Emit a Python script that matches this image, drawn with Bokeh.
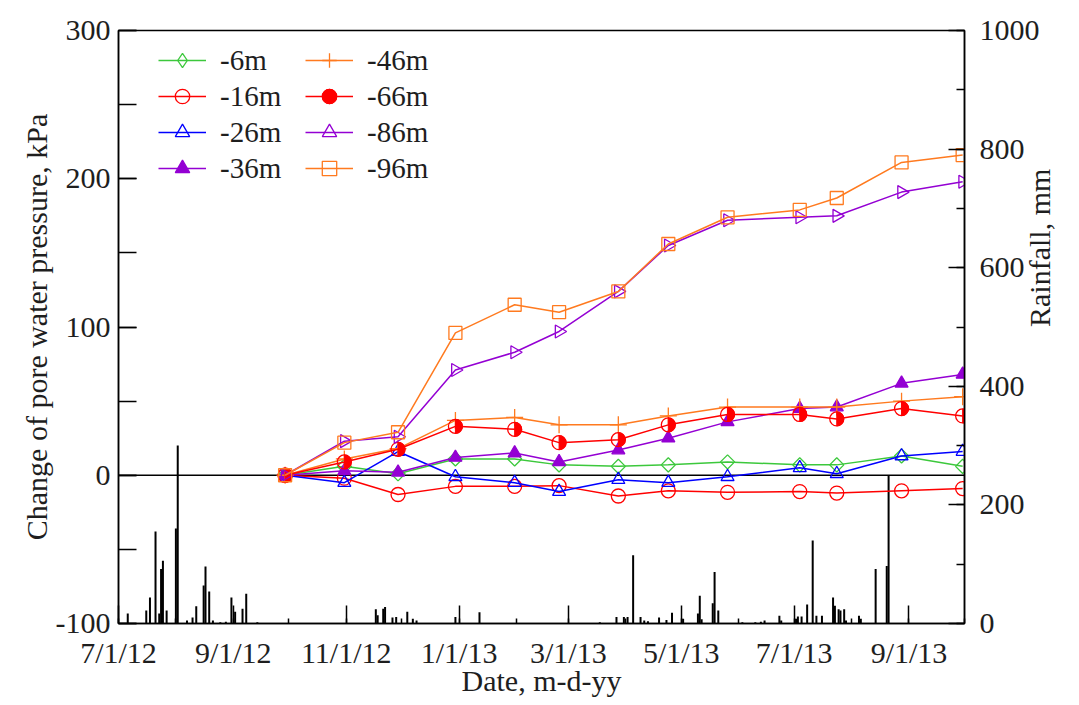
import math
from datetime import datetime
import pandas as pd
from bokeh.plotting import figure
from bokeh.models import (Range1d, LinearAxis, FixedTicker, SingleIntervalTicker,
                          Span, Legend, LegendItem)
from bokeh.embed import file_html
from bokeh.resources import INLINE

# ---------------- data ----------------
dates = ["2012-09-29", "2012-10-31", "2012-11-29", "2012-12-30", "2013-01-31",
         "2013-02-24", "2013-03-28", "2013-04-24", "2013-05-26", "2013-07-04",
         "2013-07-24", "2013-08-28", "2013-09-30"]
p6 = [0, 6, 1, 11, 11, 7, 6, 7, 9, 7, 7, 13, 6]
p16 = [0, -2, -13, -7.5, -7.5, -7, -14, -10.5, -11.5, -11, -12, -10.5, -9]
p26 = [0, -5, 16, -1, -5, -11, -3, -5, -1, 5, 1, 13, 16]
p36 = [0, 3, 2, 12, 15, 9, 17, 25, 36, 45, 46, 62, 68]
p46 = [0, 11, 18, 37, 39, 34, 34, 40, 46, 46, 46, 50, 53]
p66 = [0, 9, 17.5, 33, 31, 22, 24, 34, 41, 41, 38, 45, 40]
p86 = [0, 23, 26, 71, 83, 97, 124, 155, 172, 174, 175, 191, 198]
p96 = [0, 22, 29, 96, 115, 110, 124, 156, 174, 179, 187, 211, 216]

rain_dates = ["2012-07-06", "2012-07-16", "2012-07-18", "2012-07-21", "2012-07-23",
              "2012-07-24", "2012-07-25", "2012-07-27", "2012-08-01", "2012-08-02",
              "2012-08-07", "2012-08-10", "2012-08-12", "2012-08-16", "2012-08-17",
              "2012-08-19", "2012-08-21", "2012-08-25", "2012-08-28", "2012-08-31",
              "2012-09-02", "2012-09-06", "2012-09-08", "2012-09-14",
              "2012-11-17", "2012-11-18", "2012-11-21", "2012-11-22", "2012-11-26",
              "2012-11-28", "2012-12-04", "2012-12-07", "2012-12-09", "2012-12-30",
              "2013-01-12", "2013-03-18", "2013-03-27", "2013-03-31", "2013-04-02",
              "2013-04-05", "2013-04-09", "2013-04-11", "2013-04-13", "2013-04-19",
              "2013-04-23", "2013-04-26", "2013-05-02", "2013-05-10", "2013-05-11",
              "2013-05-12", "2013-05-18", "2013-05-19", "2013-05-21", "2013-06-03",
              "2013-06-10", "2013-06-13", "2013-06-15", "2013-06-23", "2013-06-24",
              "2013-07-02", "2013-07-03", "2013-07-05", "2013-07-08", "2013-07-11",
              "2013-07-13", "2013-07-16", "2013-07-22", "2013-07-23", "2013-07-25",
              "2013-07-26", "2013-07-28", "2013-07-29", "2013-08-05", "2013-08-06",
              "2013-08-14", "2013-08-20", "2013-08-21"]
rain_mm = [17, 22, 44, 155, 17,
           92, 106, 22, 160, 300,
           5, 10, 29, 64, 96,
           54, 5, 2, 3, 44,
           20, 25, 50, 2,
           24, 14, 25, 28, 10,
           11, 20, 8, 5, 11,
           19, 2, 11, 11, 11,
           115, 11, 5, 4, 10,
           6, 18, 8, 17, 47,
           7, 34, 87, 22, 2,
           2, 3, 5, 13, 5,
           8, 12, 12, 32, 140,
           13, 13, 44, 30, 24,
           22, 24, 5, 13, 8,
           92, 97, 250]

x_tick_labels = ["7/1/12", "9/1/12", "11/1/12", "1/1/13", "3/1/13", "5/1/13", "7/1/13", "9/1/13"]
x_start, x_end = "2012-07-01", "2013-10-01"

FONT = "Liberation Serif"
FS = "30px"
LFS = "29px"
TXT = "#1e1e1e"

def ms(ts):
    return float(pd.Timestamp(ts).value // 10**6)

x = pd.to_datetime(dates)
rx = pd.to_datetime(rain_dates)

tick_vals = [ms(datetime.strptime(s, "%m/%d/%y")) for s in x_tick_labels]
minor_vals = [ms(d) for d in pd.date_range(x_start, x_end, freq="MS")]

p = figure(width=1079, height=705, x_axis_type="datetime",
           x_range=Range1d(pd.Timestamp(x_start), pd.Timestamp(x_end)),
           y_range=Range1d(-100, 300),
           output_backend="svg", toolbar_location=None,
           min_border_left=118, min_border_right=115, min_border_top=30, min_border_bottom=82)
p.extra_y_ranges = {"rain": Range1d(0, 1000)}
p.grid.visible = False
p.outline_line_color = "black"
p.outline_line_width = 1.5
p.background_fill_color = "white"

def style(ax):
    ax.axis_line_color = "black"
    ax.axis_line_width = 1.5
    ax.major_tick_line_color = "black"
    ax.minor_tick_line_color = "black"
    ax.major_tick_line_width = 1.5
    ax.minor_tick_line_width = 1.5
    ax.major_tick_out = 0
    ax.minor_tick_out = 0
    ax.major_label_text_font = FONT
    ax.major_label_text_font_size = FS
    ax.major_label_text_color = TXT
    ax.axis_label_text_font = FONT
    ax.axis_label_text_font_size = FS
    ax.axis_label_text_font_style = "normal"
    ax.axis_label_text_color = TXT

xa = p.xaxis[0]
style(xa)
xa.ticker = FixedTicker(ticks=tick_vals, minor_ticks=minor_vals)
xa.major_label_overrides = {v: s for v, s in zip(tick_vals, x_tick_labels)}
xa.major_tick_in = 18
xa.minor_tick_in = 5
xa.major_label_standoff = 12
xa.axis_label = "Date, m-d-yy"
xa.axis_label_standoff = -8

ya = p.yaxis[0]
style(ya)
ya.ticker = SingleIntervalTicker(interval=100, num_minor_ticks=2)
ya.major_label_overrides = {-100: "-100"}
ya.major_tick_in = 18
ya.minor_tick_in = 18
ya.major_label_standoff = 8
ya.axis_label = "Change of pore water pressure, kPa"
ya.axis_label_standoff = 0

ra = LinearAxis(y_range_name="rain", ticker=SingleIntervalTicker(interval=200, num_minor_ticks=2))
style(ra)
ra.major_tick_in = 16
ra.minor_tick_in = 8
ra.major_label_standoff = 15
ra.axis_label = "Rainfall, mm"
ra.axis_label_standoff = -3
ra.axis_label_orientation = math.pi / 2
p.add_layout(ra, "right")

# zero line
p.add_layout(Span(location=0, dimension="width", line_color="black", line_width=1.5, level="underlay"))

# rainfall bars
p.segment(x0=rx, y0=0, x1=rx, y1=rain_mm, y_range_name="rain", line_color="black", line_width=2)

GREEN, RED, BLUE, PURPLE, ORANGE = "#3cc83c", "#ff0000", "#0000ff", "#9400d3", "#ff7a1f"
LW = 1.5
MLW = 1.3

def series(y, color, marker, size, fill=False, angle=0.0):
    ln = p.line(x, y, line_color=color, line_width=LW)
    sc = p.scatter(x, y, marker=marker, size=size, angle=angle, line_color=color, line_width=MLW,
                   fill_color=color if fill else None)
    return ln, sc

l6, s6 = series(p6, GREEN, "square", 10, angle=math.pi / 4)
prox6 = p.scatter(x, p6, marker="diamond", size=10, line_color=GREEN, line_width=MLW,
                  fill_color=None, visible=False)
l16, s16 = series(p16, RED, "circle", 14)
l26, s26 = series(p26, BLUE, "triangle", 13)
l36, s36 = series(p36, PURPLE, "triangle", 13, fill=True)
l46, s46 = series(p46, ORANGE, "cross", 17)
l66, s66 = series(p66, RED, "circle", 14)
p.wedge(x, p66, radius=7, radius_units="screen", start_angle=-math.pi / 2, end_angle=math.pi / 2,
        fill_color=RED, line_color=RED, line_width=1)
prox66 = p.scatter(x, p66, marker="circle", size=9, fill_color=RED, line_color=RED, visible=False)
l86, s86 = series(p86, PURPLE, "triangle", 13, angle=-math.pi / 2)
l96, s96 = series(p96, ORANGE, "square", 13)

legend = Legend(items=[
    LegendItem(label="-6m", renderers=[l6, prox6]),
    LegendItem(label="-16m", renderers=[l16, s16]),
    LegendItem(label="-26m", renderers=[l26, s26]),
    LegendItem(label="-36m", renderers=[l36, s36]),
    LegendItem(label="-46m", renderers=[l46, s46]),
    LegendItem(label="-66m", renderers=[l66, s66, prox66]),
    LegendItem(label="-86m", renderers=[l86, s86]),
    LegendItem(label="-96m", renderers=[l96, s96]),
], location=(40, 437), orientation="vertical", nrows=4, ncols=2,
    glyph_width=48, glyph_height=36, label_standoff=14, label_width=85, spacing=0, padding=0,
    label_text_font=FONT, label_text_font_size=LFS, label_text_color=TXT,
    border_line_alpha=0, background_fill_alpha=0, margin=0)
p.add_layout(legend, "center")

open("out.html", "w").write(file_html(p, INLINE))
